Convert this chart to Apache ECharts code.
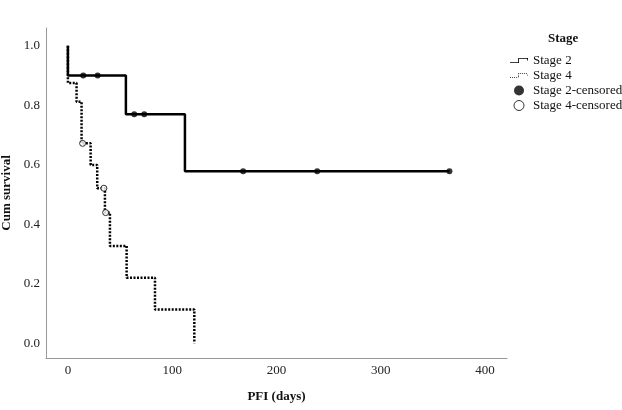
<!DOCTYPE html>
<html>
<head>
<meta charset="utf-8">
<script src="https://cdn.jsdelivr.net/npm/echarts@6/dist/echarts.min.js"></script>
<style>
  html, body { margin: 0; padding: 0; background: #fff; }
  #chart { width: 622px; height: 410px; }
</style>
</head>
<body>
<div id="chart"></div>
<script>
// Kaplan-Meier steps
var stage2Times = [0, 0, 55.6, 112.2, 365.8];
var stage2Surv  = [1.0, 0.9, 0.77, 0.578, 0.578];
var stage4Times = [0, 0, 8.3, 13.1, 21.8, 28.1, 35.5, 40.3, 56.3, 83.5, 121.2];
var stage4Surv  = [1.0, 0.875, 0.812, 0.672, 0.599, 0.521, 0.439, 0.327, 0.22, 0.113, 0];

// censored observations
var stage2CensorTimes = [14.7, 28.5, 63.6, 73.2, 168, 239, 365.8];
var stage2CensorSurv  = [0.9, 0.9, 0.77, 0.77, 0.578, 0.578, 0.578];
var stage4CensorTimes = [14.1, 34.5, 36.2];
var stage4CensorSurv  = [0.672, 0.521, 0.439];

var xTicks = [0, 100, 200, 300, 400];
var yTicks = [0, 0.2, 0.4, 0.6, 0.8, 1.0];

function pairs(xs, ys) {
    return xs.map(function (x, i) { return [x, ys[i]]; });
}

// legend icons: little step shapes like the SPSS legend
var solidStep = 'path://M0,5h10v1h-10z M10,0h1v6h-1z M10,0h12v1h-12z M21,0h1v3h-1z';
function dottedStep() {
    var p = 'path://';
    for (var x = 0; x < 10; x += 2.5) p += 'M' + x + ',5h1.2v1h-1.2z ';
    for (var y = 0; y < 6; y += 2) p += 'M10,' + y + 'h1v1h-1z ';
    for (var x2 = 12; x2 < 22; x2 += 2.5) p += 'M' + x2 + ',0h1.2v1h-1.2z ';
    p += 'M21,2h1v1h-1z';
    return p;
}

var font = 'Liberation Serif';
var chart = echarts.init(document.getElementById('chart'));

var option = {
    backgroundColor: '#fff',
    animation: false,
    textStyle: { fontFamily: font },
    title: {
        text: 'Stage',
        left: 548,
        top: 32,
        padding: 0,
        textStyle: { fontFamily: font, fontSize: 13, fontWeight: 'bold', color: '#111' }
    },
    legend: {
        orient: 'vertical',
        left: 510,
        top: 54,
        padding: 0,
        itemWidth: 18,
        itemHeight: 10,
        itemGap: 2,
        textStyle: { fontFamily: font, fontSize: 13, color: '#111' },
        data: [
            { name: 'Stage 2', icon: solidStep, itemStyle: { color: '#000', borderWidth: 0 } },
            { name: 'Stage 4', icon: dottedStep(), itemStyle: { color: '#000', borderWidth: 0 } },
            { name: 'Stage 2-censored', icon: 'circle', itemStyle: { color: '#000', borderWidth: 0 } },
            { name: 'Stage 4-censored', icon: 'circle', itemStyle: { color: '#fff', borderColor: '#000', borderWidth: 1 } }
        ]
    },
    grid: { left: 46, top: 28, right: 115, bottom: 52, outerBoundsMode: 'none', containLabel: false },
    xAxis: {
        type: 'value',
        min: -21,
        max: 421,
        name: 'PFI (days)',
        nameLocation: 'middle',
        nameGap: 32,
        nameTextStyle: { fontFamily: font, fontSize: 13, fontWeight: 'bold', color: '#111' },
        axisLine: { onZero: false, lineStyle: { color: '#999', width: 1 } },
        axisTick: { show: false },
        splitLine: { show: false },
        axisLabel: {
            customValues: xTicks,
            margin: 6,
            fontFamily: font, fontSize: 13, color: '#222'
        }
    },
    yAxis: {
        type: 'value',
        min: -0.05,
        max: 1.06,
        name: 'Cum survival',
        nameLocation: 'middle',
        nameGap: 25,
        nameTextStyle: { fontFamily: font, fontSize: 13, fontWeight: 'bold', color: '#111' },
        axisLine: { onZero: false, lineStyle: { color: '#999', width: 1 } },
        axisTick: { show: false },
        splitLine: { show: false },
        axisLabel: {
            customValues: yTicks,
            margin: 6,
            fontFamily: font, fontSize: 13, color: '#222',
            formatter: function (v) { return v.toFixed(1); }
        }
    },
    series: [
        {
            name: 'Stage 2',
            type: 'line',
            step: 'end',
            showSymbol: false,
            symbol: 'none',
            color: '#000',
            lineStyle: { color: '#000', width: 2.5 },
            data: pairs(stage2Times, stage2Surv),
            z: 3
        },
        {
            name: 'Stage 4',
            type: 'line',
            step: 'end',
            showSymbol: false,
            symbol: 'none',
            color: '#000',
            lineStyle: { color: '#000', width: 2.5, type: [2, 1.5] },
            data: pairs(stage4Times, stage4Surv),
            z: 2
        },
        {
            name: 'Stage 2-censored',
            type: 'scatter',
            symbol: 'circle',
            symbolSize: 6,
            itemStyle: { color: '#000' },
            data: pairs(stage2CensorTimes, stage2CensorSurv),
            z: 4
        },
        {
            name: 'Stage 4-censored',
            type: 'scatter',
            symbol: 'circle',
            symbolSize: 6,
            itemStyle: { color: '#fff', borderColor: '#000', borderWidth: 1 },
            data: pairs(stage4CensorTimes, stage4CensorSurv),
            z: 4
        }
    ]
};

chart.setOption(option);
</script>
</body>
</html>
